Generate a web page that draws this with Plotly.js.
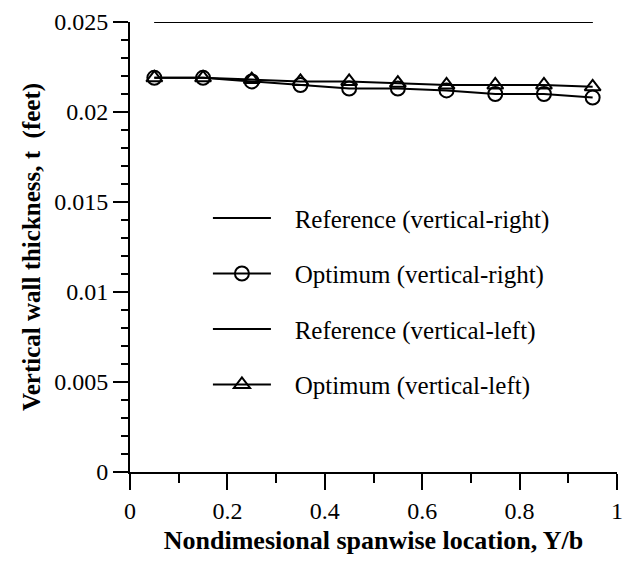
<!DOCTYPE html>
<html>
<head>
<meta charset="utf-8">
<script src="https://cdn.plot.ly/plotly-3.0.1.min.js"></script>
<style>html,body{margin:0;padding:0;background:#fff;}#chart{width:624px;height:564px;}</style>
</head>
<body>
<div id="chart"></div>
<script>
var spanX = [0.05, 0.15, 0.25, 0.35, 0.45, 0.55, 0.65, 0.75, 0.85, 0.95];
var refRight = [0.025, 0.025, 0.025, 0.025, 0.025, 0.025, 0.025, 0.025, 0.025, 0.025];
var optRight = [0.0219, 0.0219, 0.0217, 0.0215, 0.0213, 0.0213, 0.0212, 0.0210, 0.0210, 0.0208];
var refLeft = [0.025, 0.025, 0.025, 0.025, 0.025, 0.025, 0.025, 0.025, 0.025, 0.025];
var optLeft = [0.0219, 0.0219, 0.0218, 0.0217, 0.0217, 0.0216, 0.0215, 0.0215, 0.0215, 0.0214];
var names = ["Reference (vertical-right)", "Optimum (vertical-right)", "Reference (vertical-left)", "Optimum (vertical-left)"];
var xTicks = [0, 0.2, 0.4, 0.6, 0.8, 1];
var xTickText = ["0", "0.2", "0.4", "0.6", "0.8", "1"];
var yTicks = [0, 0.005, 0.01, 0.015, 0.02, 0.025];
var yTickText = ["0", "0.005", "0.01", "0.015", "0.02", "0.025"];

var serif = "Liberation Serif, Times New Roman, serif";
var pad = "\u00a0\u00a0\u00a0";
var traces = [
  {x: spanX, y: refRight, name: pad + names[0], mode: "lines", legendgroup: "a",
   line: {color: "#000", width: 2}},
  {x: spanX, y: optRight, name: pad + names[1], mode: "lines+markers", legendgroup: "b",
   line: {color: "#000", width: 2},
   marker: {symbol: "circle-open", size: 14, color: "#000", line: {width: 2, color: "#000"}}},
  {x: spanX, y: refLeft, name: pad + names[2], mode: "lines", legendgroup: "c",
   line: {color: "#000", width: 2}},
  {x: spanX, y: optLeft, name: pad + names[3], mode: "lines+markers", legendgroup: "d",
   line: {color: "#000", width: 2},
   marker: {symbol: "triangle-up-open", size: 14, color: "#000", line: {width: 2, color: "#000"}}}
];

var layout = {
  width: 624, height: 564,
  margin: {l: 130, r: 7, t: 22, b: 92},
  paper_bgcolor: "#fff", plot_bgcolor: "#fff",
  font: {family: serif, color: "#000", size: 24},
  showlegend: true,
  legend: {x: 0.16, y: 0.615, xanchor: "left", yanchor: "top",
           font: {family: serif, size: 25, color: "#000"},
           bgcolor: "rgba(0,0,0,0)", traceorder: "grouped", tracegroupgap: 20,
           itemwidth: 58},
  xaxis: {
    range: [0, 1], tickvals: xTicks, ticktext: xTickText,
    showgrid: false, zeroline: false, showline: true, linecolor: "#000", linewidth: 2,
    ticks: "outside", ticklen: 16, tickwidth: 2, tickcolor: "#000",
    minor: {dtick: 0.1, tick0: 0, ticks: "outside", ticklen: 9, tickwidth: 2, tickcolor: "#000", showgrid: false},
    tickfont: {family: serif, size: 24, color: "#000"},
    title: {text: "<b>Nondimesional spanwise location, Y/b</b>", font: {family: serif, size: 26, color: "#000"}, standoff: 8}
  },
  yaxis: {
    range: [0, 0.025], tickvals: yTicks, ticktext: yTickText,
    showgrid: false, zeroline: false, showline: true, linecolor: "#000", linewidth: 2,
    ticks: "outside", ticklen: 15, tickwidth: 2, tickcolor: "#000",
    minor: {dtick: 0.001, tick0: 0, ticks: "outside", ticklen: 7, tickwidth: 2, tickcolor: "#000", showgrid: false},
    tickfont: {family: serif, size: 24, color: "#000"},
    title: {text: "<b>Vertical wall thickness, t  (feet)</b>", font: {family: serif, size: 25, color: "#000"}, standoff: 6}
  }
};

Plotly.newPlot("chart", traces, layout, {displayModeBar: false, staticPlot: true});
</script>
</body>
</html>
